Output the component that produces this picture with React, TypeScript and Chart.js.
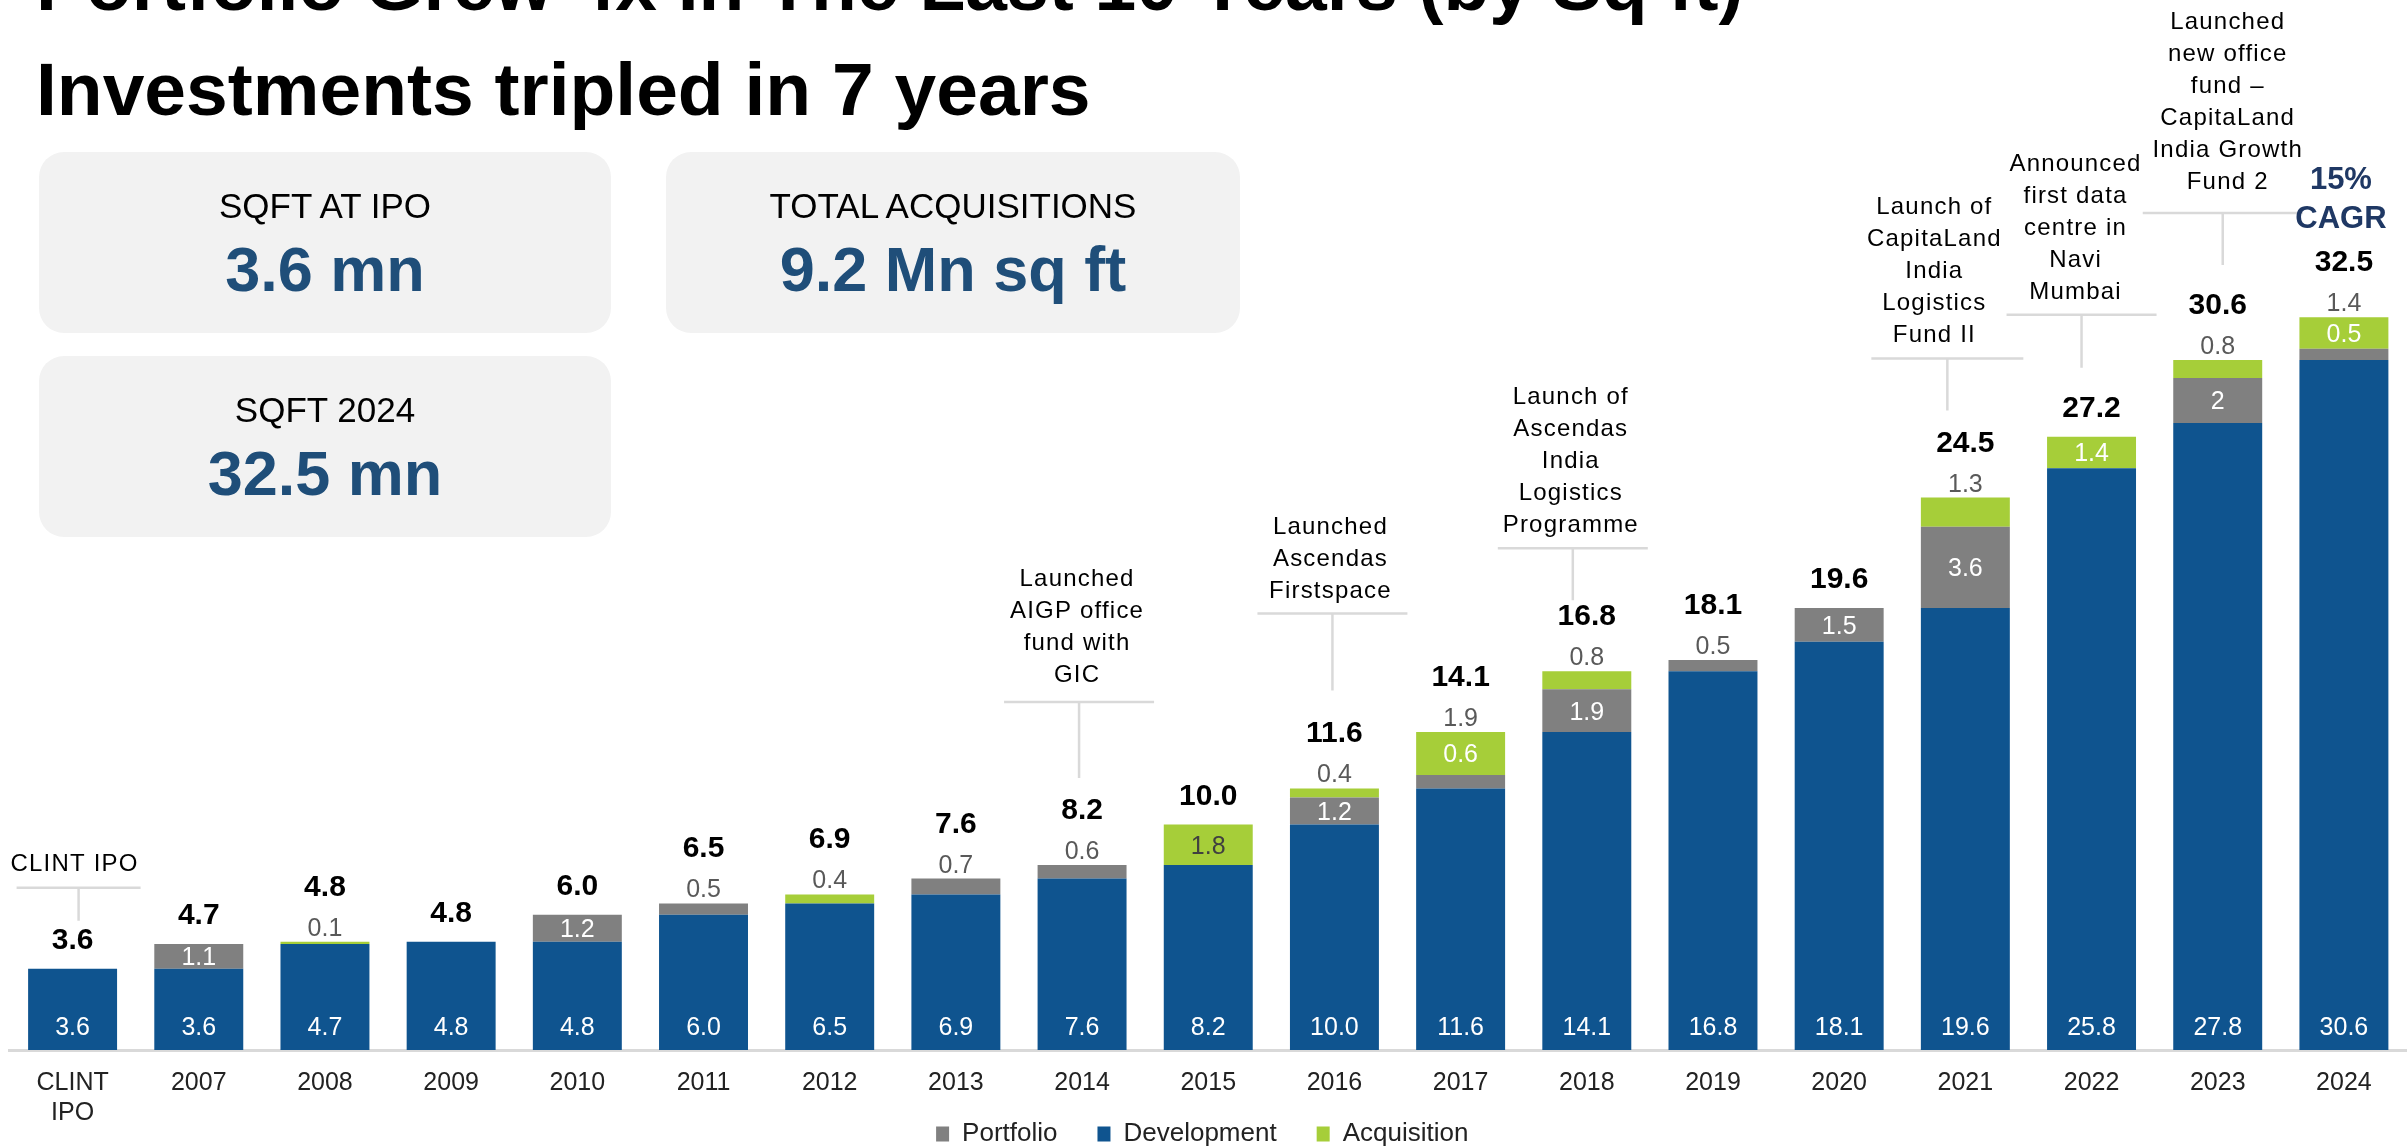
import React, { useEffect, useRef } from "react";
import { Chart, registerables } from "chart.js";

Chart.register(...registerables);

const FONT = "'Liberation Sans', Arial, Helvetica, sans-serif";

// ---------- data ----------
const categories: (string | string[])[] = [
  ["CLINT", "IPO"], "2007", "2008", "2009", "2010", "2011", "2012", "2013", "2014",
  "2015", "2016", "2017", "2018", "2019", "2020", "2021", "2022", "2023", "2024",
];
const development = [3.6, 3.6, 4.7, 4.8, 4.8, 6.0, 6.5, 6.9, 7.6, 8.2, 10.0, 11.6, 14.1, 16.8, 18.1, 19.6, 25.8, 27.8, 30.6];
const portfolio = [0, 1.1, 0, 0, 1.2, 0.5, 0, 0.7, 0.6, 0, 1.2, 0.6, 1.9, 0.5, 1.5, 3.6, 0, 2.0, 0.5];
const acquisition = [0, 0, 0.1, 0, 0, 0, 0.4, 0, 0, 1.8, 0.4, 1.9, 0.8, 0, 0, 1.3, 1.4, 0.8, 1.4];
const totalLabels = ["3.6", "4.7", "4.8", "4.8", "6.0", "6.5", "6.9", "7.6", "8.2", "10.0", "11.6", "14.1", "16.8", "18.1", "19.6", "24.5", "27.2", "30.6", "32.5"];
const topLabels = [null, null, "0.1", null, null, "0.5", "0.4", "0.7", "0.6", null, "0.4", "1.9", "0.8", "0.5", null, "1.3", null, "0.8", "1.4"];
const portfolioInside = [null, "1.1", null, null, "1.2", null, null, null, null, null, "1.2", null, "1.9", null, "1.5", "3.6", null, "2", null];
const acquisitionInside = [null, null, null, null, null, null, null, null, null, "1.8", null, "0.6", null, null, null, null, "1.4", null, "0.5"];
const seriesNames = ["Development", "Portfolio", "Acquisition"];
const legendOrder = ["Portfolio", "Development", "Acquisition"];

const milestones = [
  { cat: 0, lines: ["CLINT IPO"] },
  { cat: 8, lines: ["Launched", "AIGP office", "fund with", "GIC"] },
  { cat: 10, lines: ["Launched", "Ascendas", "Firstspace"] },
  { cat: 12, lines: ["Launch of", "Ascendas", "India", "Logistics", "Programme"] },
  { cat: 15, lines: ["Launch of", "CapitaLand", "India", "Logistics", "Fund II"] },
  { cat: 16, lines: ["Announced", "first data", "centre in", "Navi", "Mumbai"] },
  { cat: 17, lines: ["Launched", "new office", "fund –", "CapitaLand", "India Growth", "Fund 2"] },
];
const cagrLines = ["15%", "CAGR"];

// ---------- layout for the milestone callouts (pixels) ----------
const milestoneLayout = [
  { dx: 6, tdx: 2, rise: 81, stem: 33, half: 62, tgap: 17 },
  { dx: -3, tdx: -5, rise: 163, stem: 76, half: 75, tgap: 20 },
  { dx: -2, tdx: -4, rise: 175, stem: 77, half: 75, tgap: 15 },
  { dx: -14, tdx: -16, rise: 123, stem: 52, half: 75, tgap: 16 },
  { dx: -18, tdx: -31, rise: 139, stem: 52, half: 76, tgap: 17 },
  { dx: -10, tdx: -16, rise: 122, stem: 53, half: 75, tgap: 16 },
  { dx: 5, tdx: 10, rise: 147, stem: 52, half: 80, tgap: 24 },
];

const COLORS = {
  Development: "#0F548F",
  Portfolio: "#808080",
  Acquisition: "#A6CE39",
};

const X_AXIS_HEIGHT = 85;
const LEGEND_SHIFT = 54;
const LEGEND_DX = -6;

const labelsPlugin = {
  id: "barLabels",
  afterLayout(chart: any) {
    const lg = chart.legend;
    if (lg) {
      lg.top -= LEGEND_SHIFT;
      lg.bottom -= LEGEND_SHIFT;
      lg.left += LEGEND_DX;
      lg.right += LEGEND_DX;
    }
  },
  afterDatasetsDraw(chart: any) {
    const ctx = chart.ctx as CanvasRenderingContext2D;
    const ys = chart.scales.y;
    const mDev = chart.getDatasetMeta(0);
    const mPort = chart.getDatasetMeta(1);
    const mAcq = chart.getDatasetMeta(2);
    const base = ys.getPixelForValue(0);
    const tops: number[] = [];
    ctx.save();
    ctx.textAlign = "center";
    for (let i = 0; i < categories.length; i++) {
      const x = mDev.data[i].x;
      const top = ys.getPixelForValue(development[i] + portfolio[i] + acquisition[i]);
      tops.push(top);
      ctx.font = `25px ${FONT}`;
      ctx.fillStyle = "#ffffff";
      ctx.textBaseline = "alphabetic";
      ctx.fillText(development[i].toFixed(1), x, base - 15);
      ctx.textBaseline = "middle";
      if (portfolioInside[i]) {
        const el = mPort.data[i];
        ctx.fillStyle = "#ffffff";
        ctx.fillText(portfolioInside[i] as string, x, (el.y + el.base) / 2 + 2);
      }
      if (acquisitionInside[i]) {
        const el = mAcq.data[i];
        ctx.fillStyle = i === 9 ? "#404040" : "#ffffff";
        ctx.fillText(acquisitionInside[i] as string, x, (el.y + el.base) / 2 + 2);
      }
      ctx.textBaseline = "alphabetic";
      let tb: number;
      if (topLabels[i]) {
        ctx.fillStyle = "#595959";
        ctx.fillText(topLabels[i] as string, x, top - 6);
        tb = top - 46;
      } else {
        tb = top - 20;
      }
      ctx.font = `bold 30px ${FONT}`;
      ctx.fillStyle = "#000000";
      ctx.fillText(totalLabels[i], x, tb);
    }

    ctx.strokeStyle = "#d9d9d9";
    ctx.lineWidth = 2.5;
    milestones.forEach((m, k) => {
      const L = milestoneLayout[k];
      const x = mDev.data[m.cat].x;
      const hy = tops[m.cat] - L.rise;
      const lx = x + L.dx;
      ctx.beginPath();
      ctx.moveTo(lx - L.half, hy);
      ctx.lineTo(lx + L.half, hy);
      ctx.moveTo(lx, hy);
      ctx.lineTo(lx, hy + L.stem);
      ctx.stroke();
      ctx.font = `24px ${FONT}`;
      (ctx as any).letterSpacing = "1.2px";
      ctx.fillStyle = "#000000";
      const n = m.lines.length;
      m.lines.forEach((t, j) => {
        ctx.fillText(t, x + L.tdx, hy - L.tgap - (n - 1 - j) * 32);
      });
      (ctx as any).letterSpacing = "0px";
    });

    const last = categories.length - 1;
    const cx = mDev.data[last].x - 3;
    ctx.font = `bold 31px ${FONT}`;
    ctx.fillStyle = "#1F3864";
    ctx.fillText(cagrLines[0], cx, tops[last] - 128);
    ctx.fillText(cagrLines[1], cx, tops[last] - 89);
    ctx.restore();
  },
};

function Txt(props: { cx?: number; left?: number; baseline: number; size: number; bold?: boolean; color?: string; children: React.ReactNode }) {
  const { cx, left, baseline, size, bold, color } = props;
  const top = baseline - 0.8465 * size;
  const style: React.CSSProperties = {
    position: "absolute",
    top,
    fontSize: size,
    lineHeight: `${size}px`,
    fontWeight: bold ? 700 : 400,
    color: color || "#000",
    whiteSpace: "nowrap",
    fontFamily: FONT,
  };
  if (cx !== undefined) {
    style.left = cx - 600;
    style.width = 1200;
    style.textAlign = "center";
  } else {
    style.left = left;
  }
  return <div style={style}>{props.children}</div>;
}

function Box(props: { left: number; top: number; width: number; height: number }) {
  return (
    <div
      style={{
        position: "absolute",
        left: props.left,
        top: props.top,
        width: props.width,
        height: props.height,
        background: "#f2f2f2",
        borderRadius: 25,
      }}
    />
  );
}

export default function App() {
  const ref = useRef<HTMLCanvasElement | null>(null);

  useEffect(() => {
    if (!ref.current) return;
    Chart.defaults.font.family = FONT;
    const values = [development, portfolio, acquisition];
    const chart = new Chart(ref.current, {
      type: "bar",
      data: {
        labels: categories as any,
        datasets: seriesNames.map((name, i) => ({
          label: name,
          data: values[i],
          backgroundColor: (COLORS as any)[name],
          borderColor: (COLORS as any)[name],
          borderWidth: 0,
          barPercentage: 0.705,
          categoryPercentage: 1,
        })),
      },
      options: {
        responsive: false,
        maintainAspectRatio: false,
        animation: false,
        layout: { padding: { left: 9.5, right: 0, top: 148, bottom: 0 } },
        plugins: {
          tooltip: { enabled: false },
          legend: {
            position: "bottom",
            labels: {
              font: { size: 26, family: FONT },
              color: "#222222",
              boxWidth: 13,
              boxHeight: 15,
              padding: 40,
              sort: (a: any, b: any) => legendOrder.indexOf(a.text) - legendOrder.indexOf(b.text),
            },
          },
        },
        scales: {
          x: {
            stacked: true,
            grid: { display: false, drawTicks: false },
            border: { display: true, color: "#d9d9d9", width: 3 },
            ticks: {
              font: { size: 25, family: FONT, lineHeight: 1.2 },
              color: "#222222",
              padding: 18,
              maxRotation: 0,
              autoSkip: false,
            },
            afterFit: (scale: any) => {
              scale.height = X_AXIS_HEIGHT;
            },
          },
          y: {
            stacked: true,
            display: false,
            min: 0,
            max: 40,
          },
        },
      },
      plugins: [labelsPlugin],
    });
    return () => chart.destroy();
  }, []);

  const canvasH = 1050 + X_AXIS_HEIGHT + 76;

  return (
    <div
      style={{
        position: "fixed",
        left: 0,
        top: 0,
        width: 2407,
        height: 1147,
        overflow: "hidden",
        background: "#ffffff",
        fontFamily: FONT,
      }}
    >
      <canvas ref={ref} width={2407} height={canvasH} style={{ position: "absolute", left: 0, top: 0, width: 2407, height: canvasH }} />
      <Txt left={36} baseline={10} size={75} bold>Portfolio Grew 4x In The Last 10 Years (by Sq ft)</Txt>
      <Txt left={36} baseline={115} size={75} bold>Investments tripled in 7 years</Txt>

      <Box left={39} top={152} width={572} height={181} />
      <Box left={666} top={152} width={574} height={181} />
      <Box left={39} top={356} width={572} height={181} />

      <Txt cx={325} baseline={218} size={35}>SQFT AT IPO</Txt>
      <Txt cx={325} baseline={291} size={63} bold color="#1F4E79">3.6 mn</Txt>
      <Txt cx={953} baseline={218} size={35}>TOTAL ACQUISITIONS</Txt>
      <Txt cx={953} baseline={291} size={63} bold color="#1F4E79">9.2 Mn sq ft</Txt>
      <Txt cx={325} baseline={422} size={35}>SQFT 2024</Txt>
      <Txt cx={325} baseline={495} size={63} bold color="#1F4E79">32.5 mn</Txt>
    </div>
  );
}
